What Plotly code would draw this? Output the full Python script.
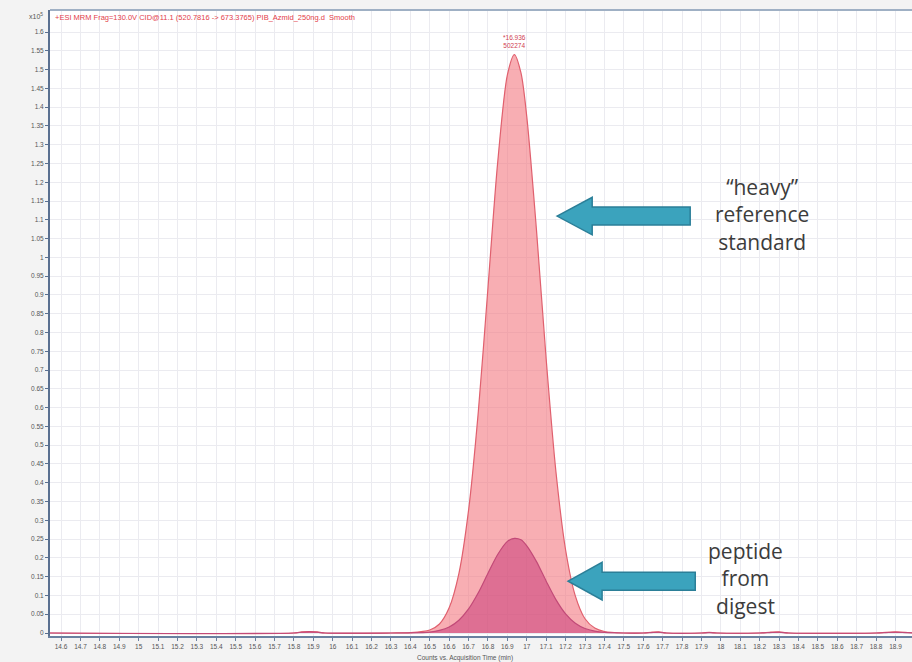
import plotly.graph_objects as go

# Retention time axis (min) shared by both transitions
time_min = [14.54, 15.80, 15.84, 15.88, 15.92, 15.96, 16.30, 16.40, 16.50, 16.55,
            16.60, 16.65, 16.70, 16.75, 16.80, 16.85, 16.90, 16.936, 16.97, 17.00,
            17.05, 17.10, 17.15, 17.20, 17.25, 17.30, 17.35, 17.40, 17.50, 17.60,
            17.64, 17.68, 17.72, 17.90, 17.94, 17.98, 18.20, 18.25, 18.30, 18.35,
            18.80, 18.85, 18.90, 18.95, 19.00]

# Counts (x10^5) – isotope-labelled "heavy" reference standard
heavy_counts = [0.0, 0.0, 0.003, 0.004, 0.003, 0.0, 0.0, 0.001, 0.008, 0.024,
                0.067, 0.158, 0.327, 0.588, 0.920, 1.253, 1.486, 1.540, 1.491, 1.374,
                1.072, 0.728, 0.430, 0.221, 0.099, 0.038, 0.013, 0.004, 0.0, 0.0,
                0.002, 0.003, 0.0, 0.0, 0.002, 0.0, 0.0, 0.002, 0.003, 0.0,
                0.0, 0.002, 0.003, 0.002, 0.0]

# Counts (x10^5) – endogenous peptide from the digest
peptide_counts = [0.0, 0.0, 0.002, 0.003, 0.002, 0.0, 0.0, 0.0003, 0.0025, 0.007,
                  0.016, 0.034, 0.064, 0.107, 0.159, 0.209, 0.244, 0.252, 0.248, 0.232,
                  0.190, 0.138, 0.089, 0.051, 0.026, 0.012, 0.005, 0.0016, 0.0, 0.0,
                  0.001, 0.002, 0.0, 0.0, 0.001, 0.0, 0.0, 0.001, 0.002, 0.0,
                  0.0, 0.001, 0.002, 0.001, 0.0]

peak_rt = 16.936
peak_height = 1.540
peak_area_label = "502274"

# Count-axis ticks (x10^5)
y_tick_vals = [0, 0.05, 0.1, 0.15, 0.2, 0.25, 0.3, 0.35, 0.4, 0.45, 0.5, 0.55, 0.6, 0.65,
               0.7, 0.75, 0.8, 0.85, 0.9, 0.95, 1, 1.05, 1.1, 1.15, 1.2, 1.25, 1.3, 1.35,
               1.4, 1.45, 1.5, 1.55, 1.6]
y_tick_text = [f"{v:g}" for v in y_tick_vals]

chart_title = "+ESI MRM Frag=130.0V CID@11.1 (520.7816 -> 673.3765) PIB_Azmid_250ng.d  Smooth"
x_title = "Counts vs. Acquisition Time (min)"
heavy_text = "\u201cheavy\u201d<br>reference<br>standard"
peptide_text = "peptide<br>from<br>digest"

fig = go.Figure()

fig.add_trace(go.Scatter(
    x=time_min, y=heavy_counts, mode="lines", line=dict(color="#e0606e", width=1.2, shape="spline", smoothing=0.8),
    fill="tozeroy", fillcolor="rgba(243,120,128,0.6)", hoverinfo="skip", showlegend=False,
))
fig.add_trace(go.Scatter(
    x=time_min, y=peptide_counts, mode="lines", line=dict(color="#c24a78", width=1.2, shape="spline", smoothing=0.8),
    fill="tozeroy", fillcolor="rgba(200,60,120,0.55)", hoverinfo="skip", showlegend=False,
))


def block_arrow(tip_x, back_x, end_x, yc, head_h, shaft_h):
    """Left-pointing block arrow as an SVG path in data coordinates."""
    return (f"M {tip_x},{yc} L {back_x},{yc + head_h} L {back_x},{yc + shaft_h} "
            f"L {end_x},{yc + shaft_h} L {end_x},{yc - shaft_h} L {back_x},{yc - shaft_h} "
            f"L {back_x},{yc - head_h} Z")


arrow_style = dict(type="path", xref="x", yref="y", fillcolor="#3ba3bd",
                   line=dict(color="#2b7f98", width=1.5), layer="above")
fig.add_shape(path=block_arrow(17.156, 17.337, 17.842, 1.110, 0.050, 0.024), **arrow_style)
fig.add_shape(path=block_arrow(17.213, 17.388, 17.868, 0.138, 0.050, 0.024), **arrow_style)

# Top frame line
fig.add_shape(type="line", xref="paper", yref="paper", x0=0, x1=1, y0=1, y1=1,
              line=dict(color="#9fb0c4", width=2))

fig.add_annotation(x=0.004, y=0.998, xref="paper", yref="paper", xanchor="left", yanchor="top",
                   text=chart_title, showarrow=False, font=dict(size=7.5, color="#e3404a"))
fig.add_annotation(x=-0.006, y=1.0, xref="paper", yref="paper", xanchor="right", yanchor="top",
                   text="x10<sup>5</sup>", showarrow=False, font=dict(size=7, color="#555555"))
fig.add_annotation(x=peak_rt, y=peak_height, yanchor="bottom", yshift=4,
                   text=f"*{peak_rt:.3f}<br>{peak_area_label}", showarrow=False,
                   font=dict(size=6.5, color="#d04050"))
fig.add_annotation(x=0.481, y=-0.025, xref="paper", yref="paper", yanchor="top", text=x_title,
                   showarrow=False, font=dict(size=6.5, color="#555555"))
fig.add_annotation(x=18.213, y=1.113, text=heavy_text, showarrow=False,
                   font=dict(family="Open Sans", size=21, color="#3c3c3c"))
fig.add_annotation(x=18.126, y=0.146, text=peptide_text, showarrow=False,
                   font=dict(family="Open Sans", size=21, color="#3c3c3c"))

fig.update_xaxes(range=[14.543, 18.985], tick0=14.6, dtick=0.1, showgrid=True, gridcolor="#ebebf0",
                 gridwidth=1, zeroline=False, showline=True, linecolor="#6a80a0", linewidth=2,
                 ticks="outside", ticklen=3, tickcolor="#6a80a0",
                 tickfont=dict(size=6.5, color="#555555"))
fig.update_yaxes(range=[-0.008, 1.6586], tickmode="array", tickvals=y_tick_vals, ticktext=y_tick_text,
                 showgrid=True, gridcolor="#ebebf0",
                 gridwidth=1, zeroline=False, showline=True, linecolor="#5a7090", linewidth=2,
                 ticks="outside", ticklen=3, tickcolor="#5a7090",
                 tickfont=dict(size=6.5, color="#555555"))

fig.update_layout(width=912, height=662, margin=dict(l=50, r=0, t=10, b=26),
                  paper_bgcolor="#f3f3f3", plot_bgcolor="#ffffff",
                  font=dict(family="Liberation Sans"))

fig.write_html("out.html")
